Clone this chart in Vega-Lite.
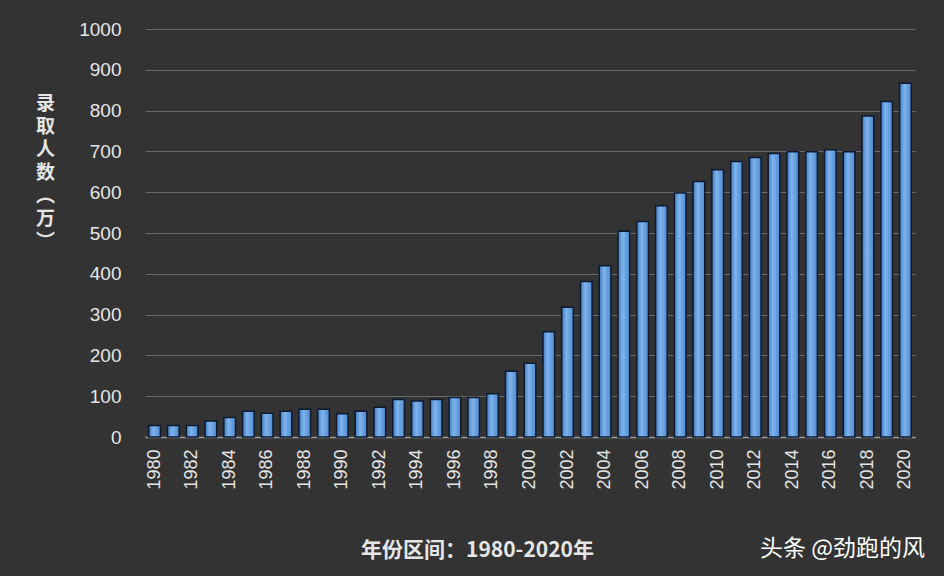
{
  "$schema": "https://vega.github.io/schema/vega-lite/v6.json",
  "width": 770,
  "height": 408,
  "autosize": {"type": "none"},
  "padding": {"left": 145, "top": 29, "right": 29, "bottom": 139},
  "background": "#333333",
  "title": {
    "text": "头条 @劲跑的风",
    "orient": "bottom",
    "anchor": "end",
    "frame": "group",
    "font": "Noto Sans CJK SC",
    "fontSize": 23,
    "fontWeight": "normal",
    "color": "#ffffff",
    "offset": 0,
    "dx": 10,
    "dy": -22
  },
  "data": {
    "values": [
      {"year": 1980, "value": 28}, {"year": 1981, "value": 28}, {"year": 1982, "value": 28},
      {"year": 1983, "value": 39}, {"year": 1984, "value": 48}, {"year": 1985, "value": 63},
      {"year": 1986, "value": 58}, {"year": 1987, "value": 63}, {"year": 1988, "value": 68},
      {"year": 1989, "value": 68}, {"year": 1990, "value": 57}, {"year": 1991, "value": 63},
      {"year": 1992, "value": 73}, {"year": 1993, "value": 92}, {"year": 1994, "value": 88},
      {"year": 1995, "value": 92}, {"year": 1996, "value": 97}, {"year": 1997, "value": 97},
      {"year": 1998, "value": 106}, {"year": 1999, "value": 161}, {"year": 2000, "value": 181},
      {"year": 2001, "value": 258}, {"year": 2002, "value": 318}, {"year": 2003, "value": 381},
      {"year": 2004, "value": 420}, {"year": 2005, "value": 504}, {"year": 2006, "value": 528},
      {"year": 2007, "value": 567}, {"year": 2008, "value": 598}, {"year": 2009, "value": 626},
      {"year": 2010, "value": 655}, {"year": 2011, "value": 675}, {"year": 2012, "value": 685},
      {"year": 2013, "value": 695}, {"year": 2014, "value": 699}, {"year": 2015, "value": 699},
      {"year": 2016, "value": 704}, {"year": 2017, "value": 699}, {"year": 2018, "value": 787},
      {"year": 2019, "value": 822}, {"year": 2020, "value": 867}
    ]
  },
  "mark": {
    "type": "bar",
    "stroke": "#0d1a30",
    "strokeWidth": 1.5,
    "fill": {
      "gradient": "linear",
      "x1": 0, "y1": 0, "x2": 1, "y2": 0,
      "stops": [
        {"offset": 0, "color": "#3f7cc4"},
        {"offset": 0.4, "color": "#7fb3ea"},
        {"offset": 1, "color": "#4d8bd3"}
      ]
    }
  },
  "encoding": {
    "x": {
      "field": "year",
      "type": "ordinal",
      "scale": {"paddingInner": 0.38, "paddingOuter": 0.2},
      "axis": {
        "values": [1980,1982,1984,1986,1988,1990,1992,1994,1996,1998,2000,2002,2004,2006,2008,2010,2012,2014,2016,2018,2020],
        "labelAngle": -90,
        "labelFont": "Liberation Sans",
        "labelFontSize": 18,
        "labelColor": "#e6e6e6",
        "labelPadding": 12,
        "ticks": false,
        "domainColor": "#9a9a9a",
        "domainWidth": 1.5,
        "title": "年份区间：1980-2020年",
        "titleFont": "Noto Sans CJK SC",
        "titleFontSize": 21,
        "titleFontWeight": "bold",
        "titleColor": "#e6e6e6",
        "titleX": 332,
        "titleY": 119,
        "titleBaseline": "alphabetic",
        "titleAlign": "center"
      }
    },
    "y": {
      "field": "value",
      "type": "quantitative",
      "scale": {"domain": [0, 1000], "nice": false},
      "axis": {
        "values": [0,100,200,300,400,500,600,700,800,900,1000],
        "format": "d",
        "labelFont": "Liberation Sans",
        "labelFontSize": 19,
        "labelColor": "#e6e6e6",
        "labelPadding": 24,
        "ticks": false,
        "domain": false,
        "gridColor": "#6a6a6a",
        "gridWidth": 1,
        "title": ["录", "取", "人", "数", "︵", "万", "︶"],
        "titleFont": "Noto Sans CJK SC",
        "titleFontSize": 19,
        "titleFontWeight": "bold",
        "titleColor": "#e6e6e6",
        "titleAngle": 0,
        "titleAlign": "center",
        "titleBaseline": "top",
        "titleLineHeight": 23,
        "titleX": -100,
        "titleY": 65
      }
    }
  },
  "config": {
    "view": {"stroke": null}
  }
}
